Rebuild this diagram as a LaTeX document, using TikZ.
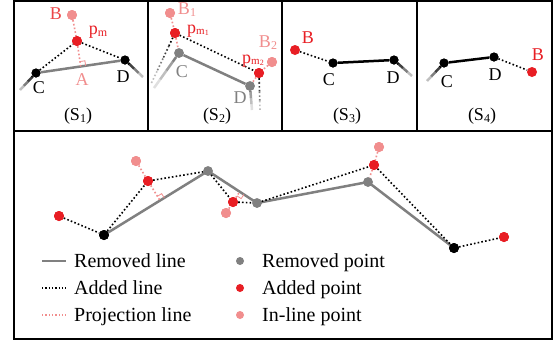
\documentclass[tikz,border=0pt]{standalone}
\usepackage{fontspec}
\setmainfont{Liberation Serif}
\usetikzlibrary{calc}
\definecolor{cred}{RGB}{232,30,36}
\definecolor{cpink}{RGB}{241,142,142}
\definecolor{cgray}{RGB}{128,128,128}
\definecolor{cbred}{RGB}{236,70,72}
\newcommand{\subs}[1]{\raisebox{-0.25ex}{\fontsize{12}{12}\selectfont #1}}
\newcommand{\subss}[1]{\raisebox{-0.2ex}{\fontsize{8}{8}\selectfont #1}}
\newcommand{\fadeseg}[3]{%
  \draw[#3,opacity=1] (#1) -- ($(#1)!0.25!(#2)$);
  \draw[#3,opacity=.75] ($(#1)!0.25!(#2)$) -- ($(#1)!0.5!(#2)$);
  \draw[#3,opacity=.5] ($(#1)!0.5!(#2)$) -- ($(#1)!0.75!(#2)$);
  \draw[#3,opacity=.25] ($(#1)!0.75!(#2)$) -- (#2);}
\newcommand{\rtmark}[3]{% foot, toward a, toward b
  \draw[projl,solid,line width=0.8pt] ($(#1)!5pt!(#2)$) -- ($($(#1)!5pt!(#2)$)+($(#1)!5pt!(#3)$)-(#1)$) -- ($(#1)!5pt!(#3)$);}
\begin{document}
\begin{tikzpicture}[x=1pt,y=-1pt,
  every node/.style={font=\fontsize{18}{20}\selectfont},
  dotk/.style={circle,fill=black,inner sep=0pt,minimum size=9pt},
  dotr/.style={circle,fill=cred,inner sep=0pt,minimum size=10pt},
  dotp/.style={circle,fill=cpink,inner sep=0pt,minimum size=10pt},
  dotg/.style={circle,fill=cgray,inner sep=0pt,minimum size=9.5pt},
  rml/.style={cgray,line width=2.5pt},
  blk/.style={black,line width=2.5pt},
  addl/.style={black,line width=1.6pt,dash pattern=on 1.6pt off 2.2pt},
  projl/.style={cpink,line width=1.6pt,dash pattern=on 1.6pt off 2.2pt},
  frame/.style={black,line width=2pt},
  lab/.style={inner sep=0pt},
  legt/.style={anchor=base west,inner sep=0pt,font=\fontsize{20}{22}\selectfont}]
\useasboundingbox (0,0) rectangle (558,343);
\fill[white] (0,0) rectangle (558,343);
% frames
\draw[frame] (14,1) rectangle (148,131);
\draw[frame] (148,1) rectangle (282,131);
\draw[frame] (282,1) rectangle (417,131);
\draw[frame] (417,1) rectangle (552,131);
\draw[frame] (14,131) rectangle (552,339);

% ---------- S1 ----------
\coordinate (c1e) at (20,90);
\coordinate (d1e) at (143,77);
\node[dotk] (c1) at (36,73) {};
\node[dotk] (d1) at (125,60) {};
\node[dotr] (pm) at (77,41) {};
\node[dotp] (b1) at (72,15) {};
\coordinate (a1) at ($(c1)!(pm)!(d1)$);
\fadeseg{c1}{c1e}{blk}
\fadeseg{d1}{d1e}{blk}
\draw[rml] (c1) -- (d1);
\draw[addl] (c1) -- (pm) -- (d1);
\draw[projl] (b1) -- (pm) -- (a1);
\rtmark{a1}{pm}{d1}
\node[dotk] at (c1) {};
\node[dotk] at (d1) {};
\node[dotr] at (pm) {};
\node[dotp] at (b1) {};
\node[lab,text=cbred] (lb1) at (56,14) {B};
\node[lab,text=cred] (lpm) at (98,32) {p\subs{m}};
\node[lab,text=cpink] (la1) at (82,80) {A};
\node[lab] (lc1) at (39,88) {C};
\node[lab] (ld1) at (123,77) {D};
\node[lab] (s1) at (78,116) {(S\subs{1})};

% ---------- S2 ----------
\coordinate (c2e) at (154,88);
\coordinate (d2e) at (252,110);
\coordinate (p1e) at (151,84);
\coordinate (p2e) at (260,110);
\node[dotg] (c2) at (179,53) {};
\node[dotg] (d2) at (250,86) {};
\node[dotr] (pm1) at (175,33) {};
\node[dotr] (pm2) at (259,73) {};
\node[dotp] (bb1) at (170,13) {};
\node[dotp] (bb2) at (272,62) {};
\fadeseg{c2}{c2e}{rml}
\fadeseg{d2}{d2e}{rml}
\draw[rml] (c2) -- (d2);
\fadeseg{pm1}{p1e}{addl}
\fadeseg{pm2}{p2e}{addl}
\draw[addl] (pm1) -- (pm2);
\draw[projl] (bb1) -- (pm1) -- (c2);
\draw[projl] (bb2) -- (pm2) -- (d2);
\node[dotg] at (c2) {};
\node[dotg] at (d2) {};
\node[dotr] at (pm1) {};
\node[dotr] at (pm2) {};
\node[dotp] at (bb1) {};
\node[dotp] at (bb2) {};
\node[lab,text=cpink] (lbb1) at (187,10) {B\subs{1}};
\node[lab,text=cred] (lpm1) at (198,31) {p\subss{\fontsize{11}{11}\selectfont m\subss{1}}};
\node[lab,text=cpink] (lbb2) at (268,43) {B\subs{2}};
\node[lab,text=cred] (lpm2) at (253,61) {p\subss{\fontsize{11}{11}\selectfont m\subss{2}}};
\node[lab,text=cgray] (lc2) at (182,72) {C};
\node[lab,text=cgray] (ld2) at (240,98) {D};
\node[lab] (s2) at (217,116) {(S\subs{2})};

% ---------- S3 ----------
\coordinate (d3e) at (412,76);
\node[dotr] (b3) at (295,50) {};
\node[dotk] (c3) at (333,63) {};
\node[dotk] (d3) at (394,60) {};
\fadeseg{d3}{d3e}{blk}
\draw[blk] (c3) -- (d3);
\draw[addl] (b3) -- (c3);
\node[dotk] at (c3) {};
\node[dotk] at (d3) {};
\node[lab,text=cred] (lb3) at (308,38) {B};
\node[lab] (lc3) at (329,80) {C};
\node[lab] (ld3) at (393,78) {D};
\node[lab] (s3) at (347,116) {(S\subs{3})};

% ---------- S4 ----------
\coordinate (c4e) at (427,81);
\node[dotk] (c4) at (444,63) {};
\node[dotk] (d4) at (494,57) {};
\node[dotr] (b4) at (532,72) {};
\fadeseg{c4}{c4e}{blk}
\draw[blk] (c4) -- (d4);
\draw[addl] (d4) -- (b4);
\node[dotk] at (c4) {};
\node[dotk] at (d4) {};
\node[lab,text=cred] (lb4) at (538,55) {B};
\node[lab] (lc4) at (447,82) {C};
\node[lab] (ld4) at (495,75) {D};
\node[lab] (s4) at (482,116) {(S\subs{4})};

% ---------- bottom ----------
\node[dotr] (q1) at (59,216) {};
\node[dotk,minimum size=10pt] (q2) at (104,235) {};
\node[dotp] (q3) at (136,161) {};
\node[dotr] (q4) at (148,181) {};
\node[dotg] (q5) at (208,171) {};
\node[dotr] (q6) at (233,202) {};
\node[dotp] (q7) at (226,213) {};
\node[dotg] (q8) at (257,203) {};
\node[dotp] (q9) at (379,147) {};
\node[dotr] (q10) at (374,165) {};
\node[dotg] (q11) at (368,182) {};
\node[dotk,minimum size=10pt] (q12) at (454,248) {};
\node[dotr] (q13) at (504,237) {};
\coordinate (f4) at ($(q2)!(q4)!(q5)$);
\coordinate (f6) at ($(q5)!(q6)!(q8)$);
\draw[rml] (q2.center) -- (q5.center) -- (q8.center) -- (q11.center) -- (q12.center);
\draw[addl] (q1) -- (q2) -- (q4) -- (q5) -- (q6) -- (q8) -- (q10) -- (q12) -- (q13);
\draw[projl] (q3) -- (q4) -- (f4);
\draw[projl] (q7) -- (q6) -- (f6);
\draw[projl] (q9) -- (q10) -- (q11);
\rtmark{f4}{q4}{q5}
\rtmark{f6}{q6}{q8}
\foreach \n/\s in {q1/dotr,q3/dotp,q4/dotr,q5/dotg,q6/dotr,q7/dotp,q8/dotg,q9/dotp,q10/dotr,q11/dotg,q13/dotr}
  \node[\s] at (\n) {};
\node[dotk,minimum size=10pt] at (q2) {};
\node[dotk,minimum size=10pt] at (q12) {};

% ---------- legend ----------
\coordinate (l1a) at (42,261); \coordinate (l1b) at (66,261);
\coordinate (l2a) at (42,288); \coordinate (l2b) at (66,288);
\coordinate (l3a) at (42,315); \coordinate (l3b) at (66,315);
\draw[rml] (l1a) -- (l1b);
\draw[addl,line width=1.3pt,dash pattern=on 1.3pt off 2pt] (l2a) -- (l2b);
\draw[projl,line width=1.3pt,dash pattern=on 1.3pt off 2pt] (l3a) -- (l3b);
\node[legt] (t1) at (74,267) {Removed line};
\node[legt] (t2) at (74,294) {Added line};
\node[legt] (t3) at (74,321) {Projection line};
\node[dotg,minimum size=8pt] (g1) at (240,261) {};
\node[dotr,minimum size=8pt] (g2) at (240,288) {};
\node[dotp,minimum size=8pt] (g3) at (240,315) {};
\node[legt] (t4) at (262,267) {Removed point};
\node[legt] (t5) at (262,294) {Added point};
\node[legt] (t6) at (262,321) {In-line point};
\end{tikzpicture}
\end{document}
